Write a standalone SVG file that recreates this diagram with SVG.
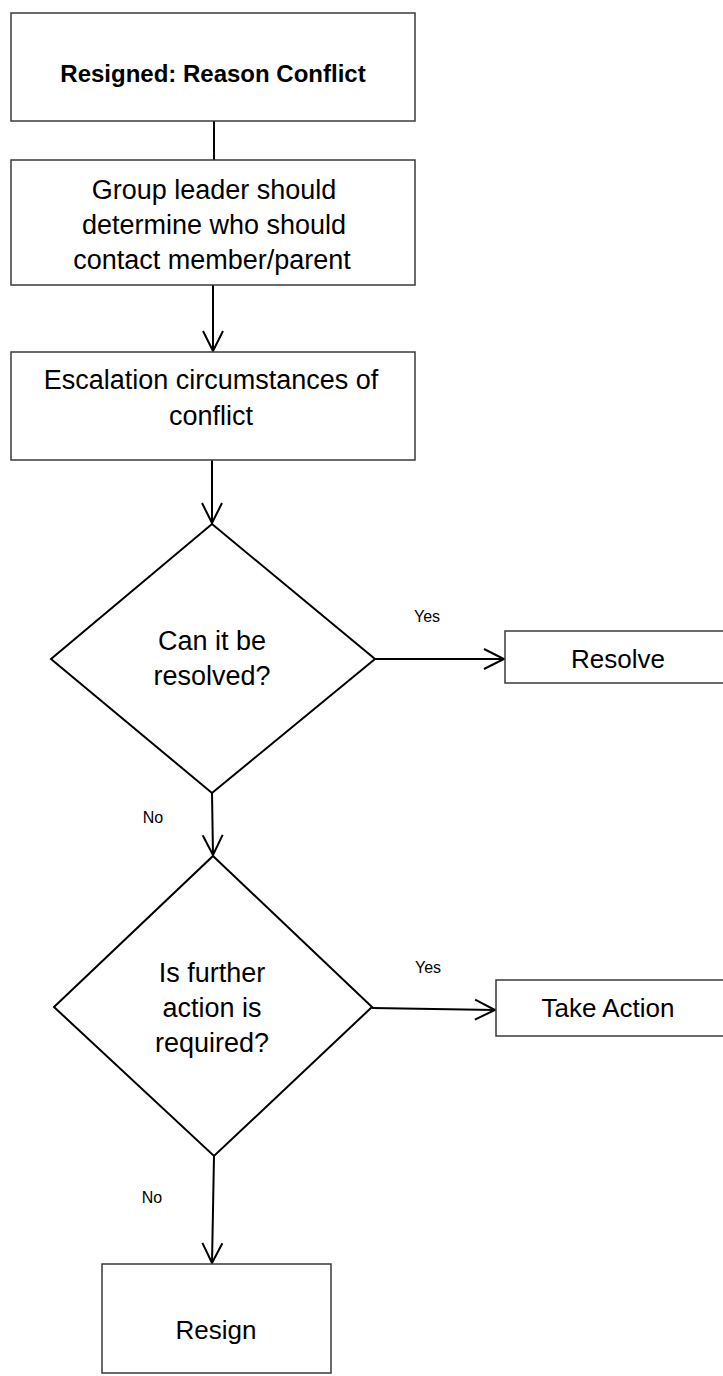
<svg xmlns="http://www.w3.org/2000/svg" width="723" height="1376" viewBox="0 0 723 1376">
  <style>
    .box { fill: #fff; stroke: #3a3a3a; stroke-width: 1.5; }
    .dec { fill: #fff; stroke: #000; stroke-width: 2; stroke-linejoin: miter; }
    .lbl { font-family: "Liberation Sans", Arial, sans-serif; font-size: 27px; fill: #000; text-anchor: middle; }
    .ttl { font-family: "Liberation Sans", Arial, sans-serif; font-size: 24px; font-weight: bold; fill: #000; text-anchor: middle; }
    .sm { font-family: "Liberation Sans", Arial, sans-serif; font-size: 16px; fill: #000; text-anchor: middle; }
    .edge { fill: none; stroke: #000; stroke-width: 2; }
  </style>
  <defs>
    <marker id="arrow" markerUnits="userSpaceOnUse" viewBox="-24 -14 28 28" refX="0" refY="0" markerWidth="28" markerHeight="28" orient="auto" overflow="visible">
      <path d="M-20,-10 L0,0 L-20,10" fill="none" stroke="#000" stroke-width="2"/>
    </marker>
  </defs>
  <rect width="723" height="1376" fill="#fff"/>

  <g id="connectors">
    <line class="edge" x1="214" y1="121" x2="214" y2="160"/>
    <line class="edge" x1="213" y1="285" x2="213" y2="351" marker-end="url(#arrow)"/>
    <line class="edge" x1="212" y1="460" x2="212" y2="523" marker-end="url(#arrow)"/>
    <line class="edge" x1="375" y1="659" x2="504" y2="659" marker-end="url(#arrow)"/>
    <line class="edge" x1="212" y1="793" x2="213" y2="855" marker-end="url(#arrow)"/>
    <line class="edge" x1="372" y1="1008" x2="495" y2="1010" marker-end="url(#arrow)"/>
    <line class="edge" x1="214" y1="1156" x2="212" y2="1263" marker-end="url(#arrow)"/>
    <text class="sm" x="427" y="622">Yes</text>
    <text class="sm" x="153" y="823">No</text>
    <text class="sm" x="428" y="973">Yes</text>
    <text class="sm" x="152" y="1203">No</text>
  </g>

  <g id="start">
    <rect class="box" x="11" y="13" width="404" height="108"/>
    <text class="ttl" x="213" y="82">Resigned: Reason Conflict</text>
  </g>

  <g id="contact">
    <rect class="box" x="11" y="160" width="404" height="125"/>
    <text class="lbl" x="214" y="199">Group leader should</text>
    <text class="lbl" x="214" y="234">determine who should</text>
    <text class="lbl" x="212" y="269">contact member/parent</text>
  </g>

  <g id="escalation">
    <rect class="box" x="11" y="352" width="404" height="108"/>
    <text class="lbl" x="211" y="389">Escalation circumstances of</text>
    <text class="lbl" x="211" y="425">conflict</text>
  </g>

  <g id="can-resolve">
    <polygon class="dec" points="212,524 375,659 212,793 51,659"/>
    <text class="lbl" x="212" y="650">Can it be</text>
    <text class="lbl" x="212" y="685">resolved?</text>
  </g>

  <g id="resolve">
    <rect class="box" x="505" y="631" width="230" height="52"/>
    <text class="lbl" x="618" y="668" style="font-size:26px">Resolve</text>
  </g>

  <g id="further-action">
    <polygon class="dec" points="213,856 372,1007 214,1156 54,1007"/>
    <text class="lbl" x="212" y="982">Is further</text>
    <text class="lbl" x="212" y="1017">action is</text>
    <text class="lbl" x="212" y="1052">required?</text>
  </g>

  <g id="take-action">
    <rect class="box" x="496" y="980" width="239" height="56"/>
    <text class="lbl" x="608" y="1017" style="font-size:26px">Take Action</text>
  </g>

  <g id="resign">
    <rect class="box" x="102" y="1264" width="229" height="109"/>
    <text class="lbl" x="216" y="1339" style="font-size:26px">Resign</text>
  </g>
</svg>
